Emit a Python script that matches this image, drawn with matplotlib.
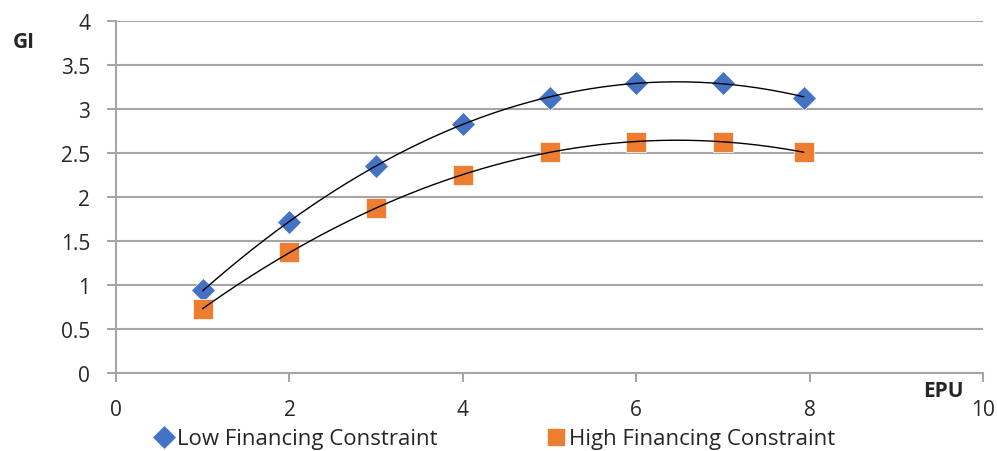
import numpy as np
import matplotlib
matplotlib.use("Agg")
import matplotlib.pyplot as plt

# data
epu = [1, 2, 3, 4, 5, 6, 7, 7.93]
gi_low = [0.94, 1.72, 2.35, 2.83, 3.13, 3.30, 3.30, 3.13]
gi_high = [0.73, 1.37, 1.88, 2.25, 2.51, 2.63, 2.63, 2.51]
xticks = [0, 2, 4, 6, 8, 10]
yticks = [0, 0.5, 1, 1.5, 2, 2.5, 3, 3.5, 4]
ytick_labels = ['0', '0.5', '1', '1.5', '2', '2.5', '3', '3.5', '4']

plt.rcParams['font.family'] = ['Open Sans', 'DejaVu Sans']
txt = '#262626'
gridc = '#a6a6a6'
fs = 15

fig = plt.figure(figsize=(9.97, 4.52), dpi=100)
ax = fig.add_axes([0.1164, 0.1726, 0.8696, 0.7784])

# polynomial (order 2) trendlines
xs = np.linspace(min(epu), max(epu), 200)
for ys in (gi_low, gi_high):
    c = np.polyfit(epu, ys, 2)
    ax.plot(xs, np.polyval(c, xs), color='black', lw=1.0, zorder=4)

ax.plot(epu, gi_low, 'D', color='#4472C4', markersize=12.5, mec='white', mew=0.5,
        label='Low Financing Constraint', zorder=3)
ax.plot(epu, gi_high, 's', color='#ED7D31', markersize=14, mec='white', mew=0.5,
        label='High Financing Constraint', zorder=3)

ax.set_xlim(0, 10)
ax.set_ylim(0, 4)
ax.set_xticks(xticks)
ax.set_yticks(yticks)
ax.set_yticklabels(ytick_labels)
ax.grid(axis='y', color=gridc, lw=1.5)
ax.set_axisbelow(True)
for s in ['top', 'right']:
    ax.spines[s].set_visible(False)
for s in ['left', 'bottom']:
    ax.spines[s].set_color(gridc)
    ax.spines[s].set_linewidth(1.5)
ax.tick_params(axis='both', colors=gridc, labelcolor=txt, labelsize=fs,
               length=6.5, width=1.5)
ax.tick_params(axis='y', pad=12)
ax.tick_params(axis='x', pad=12)

fig.text(0.013, 0.905, 'GI', fontsize=fs, fontweight='bold', color=txt,
         ha='left', va='center')
fig.text(0.926, 0.133, 'EPU', fontsize=fs, fontweight='bold', color=txt,
         ha='left', va='center')

leg = fig.legend(loc='center', bbox_to_anchor=(0.4955, 0.027), ncol=2, frameon=False,
                 fontsize=16, handletextpad=0.1, columnspacing=4.8,
                 handlelength=1.0, markerscale=0.95)
for t in leg.get_texts():
    t.set_color(txt)

fig.savefig('out.png', dpi=100)
